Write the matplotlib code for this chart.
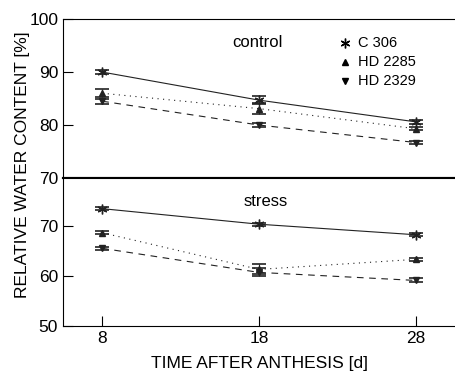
import matplotlib.pyplot as plt

plt.rcParams.update({'font.size': 10})
plt.rcParams["font.family"] = "Liberation Sans"

days = [8, 18, 28]
cultivars = ['C 306', 'HD 2285', 'HD 2329']

# control
ctrl_c306 = [90.0, 84.7, 80.6]
ctrl_hd2285 = [86.0, 83.1, 79.3]
ctrl_hd2329 = [84.5, 80.0, 76.7]
ctrl_c306_err = [0.3, 0.8, 0.4]
ctrl_hd2285_err = [0.8, 1.0, 0.3]
ctrl_hd2329_err = [0.5, 0.3, 0.3]

# stress
str_c306 = [73.4, 70.3, 68.2]
str_hd2285 = [68.6, 61.3, 63.3]
str_hd2329 = [65.5, 60.7, 59.1]
str_c306_err = [0.3, 0.3, 0.3]
str_hd2285_err = [0.3, 1.0, 0.3]
str_hd2329_err = [0.3, 0.8, 0.4]

star = (6, 2, 0)
styles = [(star, '-', 7), ('^', (0, (1, 4)), 5), ('v', (0, (6, 5)), 5)]

fig = plt.figure(figsize=(4.55, 3.74), dpi=100)
ax1 = fig.add_axes([0.1385, 0.524, 0.8615, 0.425])
ax2 = fig.add_axes([0.1385, 0.128, 0.8615, 0.396])

def draw(ax, series, errs):
    for vals, err, (m, ls, ms) in zip(series, errs, styles):
        ax.errorbar(days, vals, yerr=err, color='#222222', linewidth=0.8,
                    linestyle=ls, marker=m, markersize=ms, capsize=5,
                    elinewidth=0.8, capthick=1.2)

draw(ax1, [ctrl_c306, ctrl_hd2285, ctrl_hd2329],
     [ctrl_c306_err, ctrl_hd2285_err, ctrl_hd2329_err])
draw(ax2, [str_c306, str_hd2285, str_hd2329],
     [str_c306_err, str_hd2285_err, str_hd2329_err])

for ax in (ax1, ax2):
    ax.set_xlim(5.5, 30.5)
    ax.spines['right'].set_visible(False)
    ax.tick_params(direction='in', length=7, labelsize=12.5)

ax1.set_ylim(70, 100)
ax1.set_yticks([70, 80, 90, 100])
ax1.set_xticks([])
ax1.spines['bottom'].set_linewidth(1.5)

ax2.set_ylim(50, 79.5)
ax2.set_yticks([50, 60, 70])
ax2.set_xticks(days)
ax2.spines['top'].set_linewidth(1.5)

ax1.text(17.9, 95.6, 'control', ha='center', va='center', fontsize=12)
ax2.text(18.4, 74.9, 'stress', ha='center', va='center', fontsize=12)

# legend with markers only
for i, (name, (m, ls, ms)) in enumerate(zip(cultivars, styles)):
    y = 95.5 - i * 3.6
    ax1.plot([23.5], [y], marker=m, color='black', markersize=ms, linestyle='none')
    ax1.text(24.3, y, name, va='center', fontsize=10.5)

ax2.set_xlabel('TIME AFTER ANTHESIS [d]', fontsize=12.5, labelpad=7)
fig.text(0.05, 0.56, 'RELATIVE WATER CONTENT [%]', rotation=90,
         ha='center', va='center', fontsize=12.5)

plt.savefig('out.png')
